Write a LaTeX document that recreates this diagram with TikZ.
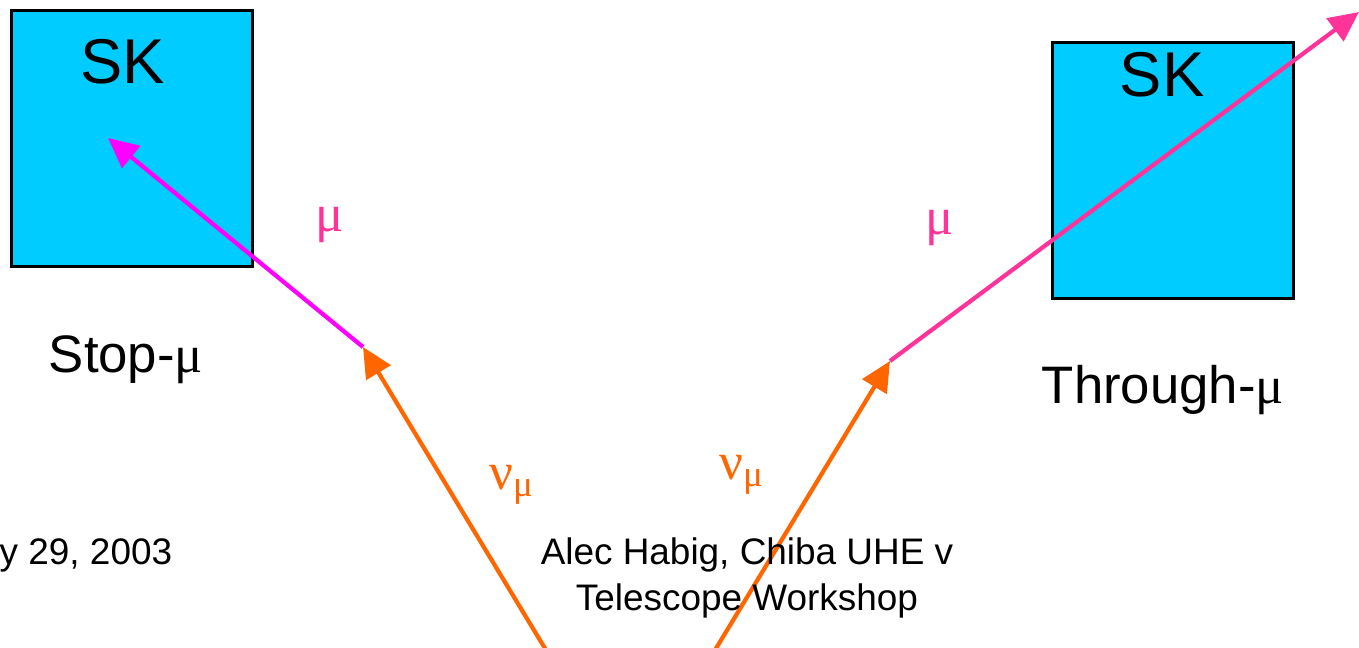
\documentclass[tikz,border=0pt]{standalone}
\usepackage{fontspec}
\setmainfont{Liberation Sans}
\newfontfamily\grk{Liberation Serif}
\usetikzlibrary{arrows.meta}
\definecolor{Detector}{HTML}{00CCFF}
\definecolor{Nu}{HTML}{FF6600}
\definecolor{MuStop}{HTML}{FF00FF}
\definecolor{MuThru}{HTML}{FF3399}
\tikzset{
  detector box/.style={draw=black,thick,fill=Detector,minimum width=2.41cm,
    minimum height=2.56cm,inner sep=0pt},
  box label/.style={font=\fontsize{18}{20}\selectfont,text=black},
  event label/.style={font=\fontsize{15}{17}\selectfont,text=black},
  footer/.style={font=\fontsize{10.5}{13}\selectfont,text=black,align=center},
  greek label/.style={font=\grk\fontsize{15}{17}\selectfont},
  track/.style={line width=1.2pt,-{Triangle[length=0.3cm,width=0.28cm]}}
}
\begin{document}
\begin{tikzpicture}[x=0.01cm,y=-0.01cm]
  \useasboundingbox (0,0) rectangle (1359,647);
  \clip (0,0) rectangle (1359,647);
  % detectors
  \node[detector box,anchor=north west] (skleft) at (10,9) {};
  \node[detector box,anchor=north west] (skright) at (1051,41) {};
  \node[box label] (skleftlabel) at (123,62) {SK};
  \node[box label] (skrightlabel) at (1162,75) {SK};
  % track end points
  \coordinate (nuleftstart) at (552,660);
  \coordinate (vtxleft) at (363,347);
  \coordinate (stopend) at (108,138);
  \coordinate (nurightstart) at (709,660);
  \coordinate (vtxright) at (890,361);
  \coordinate (thruend) at (1359,12);
  % tracks
  \draw[track,draw=Nu,fill=Nu] (nuleftstart) -- (vtxleft);
  \draw[track,draw=MuStop,fill=MuStop] (vtxleft) -- (stopend);
  \draw[track,draw=Nu,fill=Nu] (nurightstart) -- (vtxright);
  \draw[track,draw=MuThru,fill=MuThru] (vtxright) -- (thruend);
  % labels
  \node[greek label,text=MuThru] (muleft) at (330,225) {μ};
  \node[greek label,text=MuThru] (muright) at (940,228) {μ};
  \node[greek label,text=Nu] (nuleft) at (512,485) {ν\textsubscript{μ}};
  \node[greek label,text=Nu] (nuright) at (742,475) {ν\textsubscript{μ}};
  \node[event label] (stoplabel) at (126,360) {Stop-{\grk μ}};
  \node[event label] (thrulabel) at (1163,390) {Through-{\grk μ}};
  % footer
  \node[footer,anchor=west,inner sep=0pt] (date) at (-1,555) {y 29, 2003};
  \node[footer] (author) at (747,578) {Alec Habig, Chiba UHE v\\Telescope Workshop};
\end{tikzpicture}
\end{document}
